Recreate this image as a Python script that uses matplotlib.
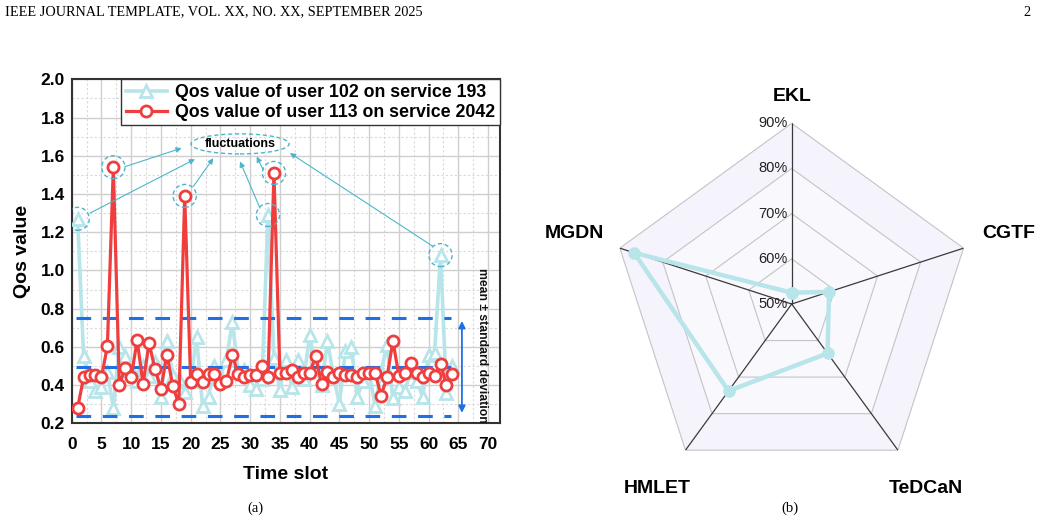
import numpy as np
import matplotlib
matplotlib.use("Agg")
import matplotlib.pyplot as plt
from matplotlib.patches import Ellipse

# ---------------- data ----------------
time_slots = list(range(1, 65))
qos_user102_s193 = [1.27, 0.55, 0.42, 0.37, 0.39, 0.47, 0.28, 0.60, 0.55, 0.48,
                    0.42, 0.50, 0.45, 0.52, 0.34, 0.63, 0.45, 0.43, 0.365, 0.42,
                    0.65, 0.29, 0.34, 0.50, 0.45, 0.53, 0.73, 0.47, 0.48, 0.40,
                    0.38, 0.43, 1.29, 0.54, 0.375, 0.53, 0.39, 0.53, 0.43, 0.66,
                    0.50, 0.40, 0.63, 0.45, 0.30, 0.58, 0.60, 0.34, 0.42, 0.47,
                    0.29, 0.47, 0.61, 0.33, 0.39, 0.37, 0.47, 0.42, 0.34, 0.56,
                    0.57, 1.08, 0.36, 0.50]
qos_user113_s2042 = [0.28, 0.44, 0.455, 0.455, 0.44, 0.605, 1.54, 0.40, 0.49, 0.44,
                     0.635, 0.405, 0.62, 0.485, 0.38, 0.56, 0.395, 0.30, 1.39, 0.415,
                     0.46, 0.415, 0.46, 0.46, 0.405, 0.42, 0.555, 0.46, 0.44, 0.455,
                     0.455, 0.50, 0.44, 1.51, 0.462, 0.462, 0.479, 0.44, 0.462, 0.462,
                     0.552, 0.406, 0.47, 0.44, 0.462, 0.455, 0.453, 0.44, 0.462, 0.462,
                     0.465, 0.345, 0.44, 0.632, 0.448, 0.462, 0.517, 0.462, 0.44, 0.462,
                     0.448, 0.509, 0.40, 0.458]
band_levels = [0.24, 0.495, 0.75]          # mean - std, mean, mean + std
spike_points = [(1, 1.27), (7, 1.54), (19, 1.39), (33, 1.29), (34, 1.51), (62, 1.08)]
x_ticks = list(range(0, 75, 5))
y_ticks = [0.2, 0.4, 0.6, 0.8, 1.0, 1.2, 1.4, 1.6, 1.8, 2.0]

radar_categories = ["EKL", "CGTF", "TeDCaN", "HMLET", "MGDN"]
radar_values = [52.5, 58.7, 63.5, 73.8, 86.7]
radar_ticks = [50, 60, 70, 80, 90]

# ---------------- style ----------------
SANS = ["Liberation Sans", "DejaVu Sans"]
SERIF = ["Liberation Serif", "DejaVu Serif"]
plt.rcParams["font.family"] = SANS
CYAN = "#b7e5ea"
RED = "#f03e3e"
BLUE = "#1f6fe6"
ANN = "#4db5cb"

fig = plt.figure(figsize=(10.41, 5.23), dpi=100)

# header / captions
fig.text(5 / 1041, 1 - 12 / 523, "IEEE JOURNAL TEMPLATE, VOL. XX, NO. XX, SEPTEMBER 2025",
         family=SERIF, fontsize=10.3, va="center", ha="left")
fig.text(1031 / 1041, 1 - 12 / 523, "2", family=SERIF, fontsize=10.3, va="center", ha="right")
fig.text(255 / 1041, 1 - 508 / 523, "(a)", family=SERIF, fontsize=10.5, va="center", ha="center")
fig.text(790 / 1041, 1 - 508 / 523, "(b)", family=SERIF, fontsize=10.5, va="center", ha="center")

# ---------------- left: line chart ----------------
ax = fig.add_axes([71.7 / 1041, (523 - 423.3) / 523, (500 - 71.7) / 1041, (423.3 - 79.3) / 523])
ax.set_xlim(0, 72)
ax.set_ylim(0.2, 2.0)
ax.set_xticks(x_ticks)
ax.set_yticks(y_ticks)
ax.set_xticks(np.arange(2.5, 72, 5), minor=True)
ax.set_yticks(np.arange(0.3, 2.0, 0.2), minor=True)
ax.set_yticklabels([f"{v:.1f}" for v in y_ticks])
ax.grid(which="major", color="#cfcfcf", lw=1.0)
ax.grid(which="minor", color="#d9d9d9", lw=0.8, ls=(0, (2, 2)))
ax.set_axisbelow(True)
ax.tick_params(which="both", length=0)
ax.tick_params(axis="x", pad=10)
ax.tick_params(axis="y", pad=5)
for lab in ax.get_xticklabels() + ax.get_yticklabels():
    lab.set_fontweight("bold")
    lab.set_fontsize(12.5)
for sp in ax.spines.values():
    sp.set_color("#333333")
    sp.set_linewidth(1.5)
ax.set_xlabel("Time slot", fontsize=14, fontweight="bold", labelpad=10)
ax.set_ylabel("Qos value", fontsize=14, fontweight="bold", labelpad=7)

l1, = ax.plot(time_slots, qos_user102_s193, color=CYAN, lw=2.6, marker="^", markersize=9,
              markerfacecolor="white", markeredgecolor=CYAN, markeredgewidth=2.0, zorder=3,
              label="Qos value of user 102 on service 193")
for lv in band_levels:
    ax.hlines(lv, 0.8, 63.8, colors=BLUE, lw=2.2, linestyles=(0, (4.8, 3.8)), zorder=4)
l2, = ax.plot(time_slots, qos_user113_s2042, color=RED, lw=2.3, marker="o", markersize=8,
              markerfacecolor="white", markeredgecolor=RED, markeredgewidth=2.0, zorder=5,
              label="Qos value of user 113 on service 2042")

# mean +/- std arrow & text
ax.annotate("", xy=(65.6, band_levels[0]), xytext=(65.6, band_levels[2]),
            arrowprops=dict(arrowstyle="<|-|>", color=BLUE, lw=1.3, mutation_scale=10), zorder=6)
ax.text(69.0, 0.61, "mean \u00b1 standard deviation",
        rotation=-90, ha="center", va="center", fontsize=8.8, fontweight="bold", color="#111111")

# fluctuation annotations
for (sx, sy) in spike_points:
    ax.add_patch(Ellipse((sx, sy), 3.9, 0.12, fill=False, ec=ANN, lw=1.0, ls=(0, (3, 2)), zorder=6))
ax.add_patch(Ellipse((28.3, 1.662), 16.5, 0.105, fill=False, ec=ANN, lw=1.0, ls=(0, (3, 2)), zorder=6))
ax.text(28.3, 1.662, "fluctuations", ha="center", va="center", fontsize=9, fontweight="bold", zorder=7)
arrow_pairs = [((8.96, 1.543), (18.49, 1.64)),
               ((3.08, 1.30), (20.72, 1.582)),
               ((20.44, 1.439), (23.8, 1.587)),
               ((31.65, 1.326), (28.29, 1.57)),
               ((32.2, 1.526), (31.1, 1.596)),
               ((60.77, 1.125), (36.69, 1.614))]
for start, end in arrow_pairs:
    ax.annotate("", xy=end, xytext=start,
                arrowprops=dict(arrowstyle="-|>", color=ANN, lw=0.8, mutation_scale=8,
                                shrinkA=0, shrinkB=0), zorder=6)

leg = ax.legend(handles=[l1, l2], loc="upper right", bbox_to_anchor=(1.0, 1.0), borderaxespad=0,
                prop={"weight": "bold", "size": 12.8}, frameon=True, fancybox=False,
                framealpha=1, edgecolor="#333333", labelspacing=0.18, borderpad=0.25,
                handlelength=2.3, handletextpad=0.5)
leg.get_frame().set_linewidth(1.0)
leg.set_zorder(10)

# ---------------- right: radar ----------------
cx, cy, R = 791.7, 304.0, 180.7
rax = fig.add_axes([(cx - R) / 1041, (523 - cy - R) / 523, 2 * R / 1041, 2 * R / 523], projection="polar")
rax.set_theta_offset(np.pi / 2)
rax.set_theta_direction(-1)
rax.set_ylim(radar_ticks[0], radar_ticks[-1])
rax.grid(False)
rax.spines["polar"].set_visible(False)
rax.set_xticks([])
rax.set_yticks([])
rax.patch.set_alpha(0)

n = len(radar_categories)
theta = np.arange(n) * 2 * np.pi / n
theta_c = np.append(theta, theta[0])

rax.fill(theta, [radar_ticks[-1]] * n, color="#f5f3fb", zorder=0, lw=0)
rax.fill(theta, [radar_ticks[-2]] * n, color="#f9f8fd", zorder=0, lw=0)
for t in radar_ticks[1:]:
    rax.plot(theta_c, [t] * (n + 1), color="#c4c4c8", lw=0.8, zorder=1)
for th in theta:
    rax.plot([th, th], [radar_ticks[0], radar_ticks[-1]], color="#3a3a3a", lw=0.9, zorder=2)

vals_c = radar_values + radar_values[:1]
rax.plot(theta_c, vals_c, color=CYAN, lw=3.2, marker="o", markersize=8,
         markerfacecolor=CYAN, markeredgecolor=CYAN, zorder=4, clip_on=False)

for t in radar_ticks:
    rax.annotate(f"{t}%", xy=(0, t), xytext=(-3, 0), textcoords="offset points",
                 ha="right", va="center", fontsize=10.5, color="#222222", zorder=5,
                 annotation_clip=False)

label_r = [96.0, 100.5, 100.5, 100.5, 100.5]
for th, name, lr in zip(theta, radar_categories, label_r):
    rax.text(th, lr, name, ha="center", va="center", fontsize=14, fontweight="bold")

fig.savefig("out.png", dpi=100)
